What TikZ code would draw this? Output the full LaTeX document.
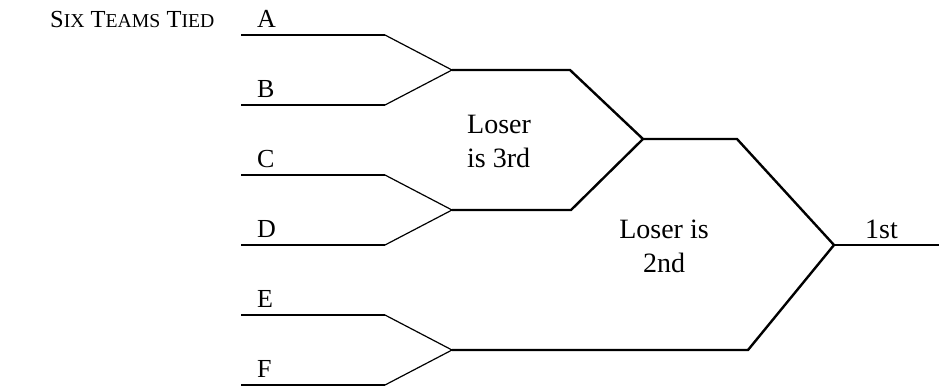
\documentclass[tikz,border=0pt]{standalone}
\usepackage{fontspec}
\setmainfont{Liberation Serif}
% small caps made by hand (Liberation Serif has none)
\newcommand{\fakesc}[2]{#1{\fontsize{19.7}{24}\selectfont #2}}
\tikzset{
  teamline/.style={line width=2.4pt},
  slantline/.style={line width=1.2pt},
  roundline/.style={line width=2.4pt},
  teamlabel/.style={anchor=base west, inner sep=0pt, font=\fontsize{26}{30}\selectfont},
  notelabel/.style={inner sep=0pt, font=\fontsize{28}{34}\selectfont}
}
\begin{document}
\begin{tikzpicture}[x=1pt,y=-1pt]
  \useasboundingbox (0,0) rectangle (939,391);
  % Title
  \node[anchor=base west, inner sep=0pt, font=\fontsize{24.5}{28}\selectfont] (title) at (50,27)
    {\fakesc{S}{IX} \fakesc{T}{EAMS} \fakesc{T}{IED}};
  % Team lines
  \coordinate (a1) at (241,35);  \coordinate (a2) at (385,35);
  \coordinate (b1) at (241,105); \coordinate (b2) at (385,105);
  \coordinate (c1) at (241,175); \coordinate (c2) at (385,175);
  \coordinate (d1) at (241,245); \coordinate (d2) at (385,245);
  \coordinate (e1) at (241,315); \coordinate (e2) at (385,315);
  \coordinate (f1) at (241,385); \coordinate (f2) at (385,385);
  \draw[teamline] (a1) -- (a2);
  \draw[teamline] (b1) -- (b2);
  \draw[teamline] (c1) -- (c2);
  \draw[teamline] (d1) -- (d2);
  \draw[teamline] (e1) -- (e2);
  \draw[teamline] (f1) -- (f2);
  % Team names
  \node[teamlabel] (nameA) at (257,27)  {A};
  \node[teamlabel] (nameB) at (257,97)  {B};
  \node[teamlabel] (nameC) at (257,167) {C};
  \node[teamlabel] (nameD) at (257,237) {D};
  \node[teamlabel] (nameE) at (257,307) {E};
  \node[teamlabel] (nameF) at (257,377) {F};
  % First round
  \coordinate (ab) at (452,70);
  \coordinate (cd) at (452,210);
  \coordinate (ef) at (452,350);
  \draw[slantline] (a2) -- (ab) -- (b2);
  \draw[slantline] (c2) -- (cd) -- (d2);
  \draw[slantline] (e2) -- (ef) -- (f2);
  % Second round
  \coordinate (abend) at (570,70);
  \coordinate (cdend) at (571,210);
  \coordinate (abcd) at (643,139);
  \draw[roundline] (ab) -- (abend) -- (abcd);
  \draw[roundline] (cd) -- (cdend) -- (abcd);
  % Final
  \coordinate (abcdend) at (737,139);
  \coordinate (efend) at (748,350);
  \coordinate (champ) at (834,245);
  \coordinate (champend) at (939,245);
  \draw[roundline] (abcd) -- (abcdend) -- (champ);
  \draw[roundline] (ef) -- (efend) -- (champ);
  \draw[roundline] (champ) -- (champend);
  % Notes
  \node[notelabel, anchor=north west, align=left] (third) at (467,114.5) {Loser\\is 3rd};
  \node[notelabel, anchor=north, align=center] (second) at (664,219.5) {Loser is\\2nd};
  \node[notelabel, anchor=base west] (first) at (865,238) {1st};
\end{tikzpicture}
\end{document}
